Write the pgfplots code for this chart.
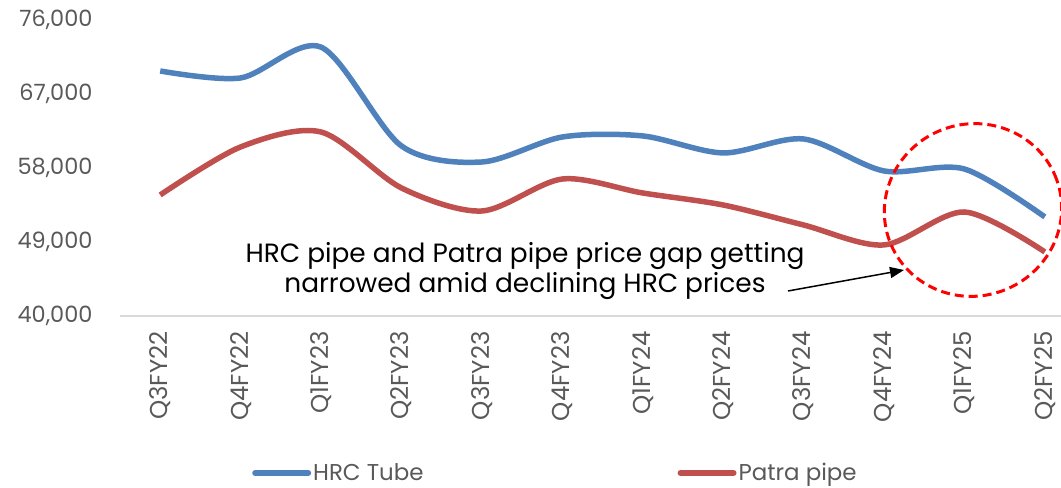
\documentclass[border=0pt]{standalone}
\usepackage{fontspec}
\setmainfont{Poppins}
\usepackage{pgfplots}
\pgfplotsset{compat=1.18}
\usetikzlibrary{arrows.meta}
\definecolor{hrc}{HTML}{4F81BD}
\definecolor{patra}{HTML}{C0504D}
\definecolor{tickc}{HTML}{595959}
\definecolor{axisl}{HTML}{D9D9D9}
\begin{document}
\begin{tikzpicture}[x=1bp,y=1bp]
\useasboundingbox (0,0) rectangle (1061,488);
\begin{axis}[
  at={(120bp,172bp)}, anchor=south west,
  scale only axis, width=965bp, height=296bp,
  xmin=-0.5, xmax=11.5, ymin=40000, ymax=76000,
  ytick={40000,49000,58000,67000,76000},
  xtick={0,...,11},
  xticklabels={Q3FY22,Q4FY22,Q1FY23,Q2FY23,Q3FY23,Q4FY23,Q1FY24,Q2FY24,Q3FY24,Q4FY24,Q1FY25,Q2FY25},
  separate axis lines,
  axis x line*=bottom, axis y line*=left,
  x axis line style={draw=axisl, line width=1.5bp, -},
  y axis line style={draw=none},
  major tick length=0pt,
  /pgf/number format/.cd, assume math mode=true, 1000 sep={,}, fixed,
  /pgfplots/.cd,
  scaled y ticks=false,
  yticklabel style={font=\fontsize{22.5}{26}\selectfont, text=tickc, xshift=-24bp},
  xticklabel style={font=\fontsize{24.5}{28}\selectfont, text=tickc, yshift=-12bp, rotate=90, anchor=east},
  clip=false,
  legend style={at={(0.1368,-0.5304)}, anchor=west, draw=none, fill=none,
    font=\fontsize{23}{26}\selectfont, text=tickc, inner xsep=0pt,
    /tikz/every odd column/.append style={column sep=0bp},
    /tikz/every even column/.append style={column sep=252bp}},
  legend columns=2,
  legend image code/.code={\draw[#1, line width=6bp, line cap=round] (0bp,0bp) -- (53bp,0bp);},
]
\addplot[color=hrc, line width=5.5bp, smooth, tension=0.5] coordinates {
(0,69800) (1,68950) (2,72700) (3,60680) (4,58730) (5,61770) (6,61900) (7,59830) (8,61530) (9,57640) (10,57880) (11,52050)};
\addlegendentry{HRC Tube}
\addplot[color=patra, line width=5.5bp, smooth, tension=0.5] coordinates {
(0,54720) (1,60560) (2,62380) (3,55570) (4,52770) (5,56660) (6,54960) (7,53500) (8,51070) (9,48640) (10,52650) (11,47790)};
\addlegendentry{Patra pipe}
\end{axis}
\draw[red, line width=3bp, dash pattern=on 9bp off 5bp, rotate around={20:(973,278)}] (973,278) ellipse [x radius=89, y radius=86];
\draw[-{Triangle[length=14bp,width=11bp]}, line width=1.5bp] (788,197) -- (904,218);
\node[anchor=base, font=\fontsize{26.5}{30}\selectfont, inner sep=0] at (525,225) {HRC pipe and Patra pipe price gap getting};
\node[anchor=base, font=\fontsize{26.5}{30}\selectfont, inner sep=0] at (525,195) {narrowed amid declining HRC prices};
\end{tikzpicture}
\end{document}
